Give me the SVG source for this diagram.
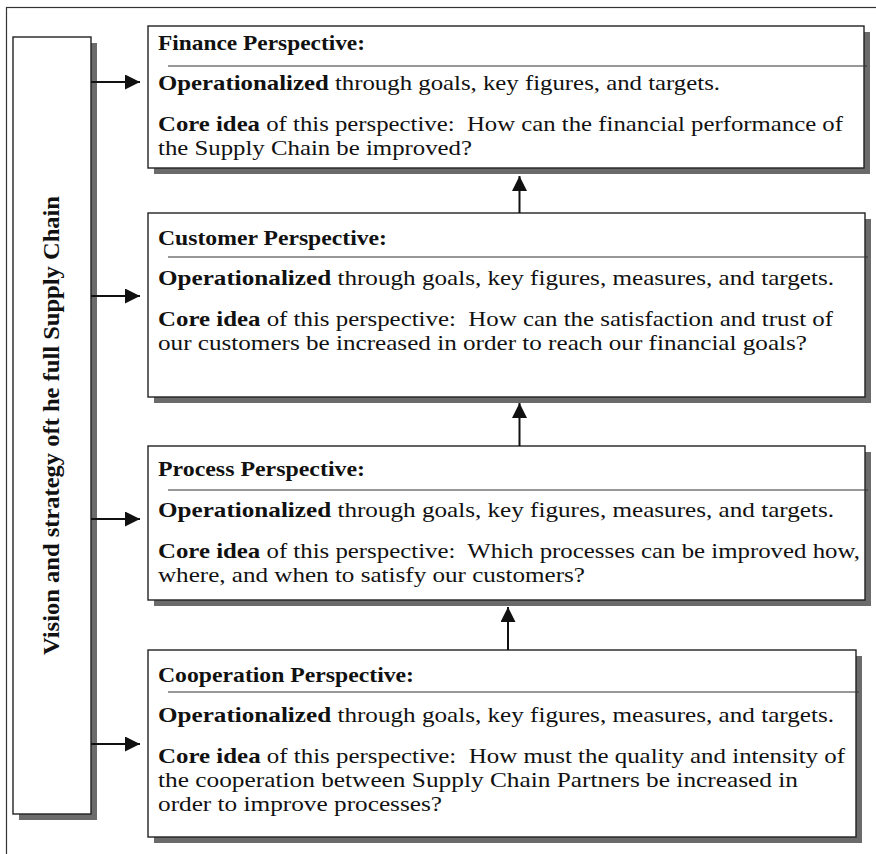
<svg xmlns="http://www.w3.org/2000/svg" width="876" height="854" viewBox="0 0 876 854">
  <style>
    .frame { fill: none; stroke: #333; stroke-width: 1.2; }
    .box { fill: #fff; stroke: #222; stroke-width: 1.4; }
    .shadow { fill: #6b6b6b; }
    .div { stroke: #333; stroke-width: 1.2; }
    .t { font-family: "Liberation Serif", "Times New Roman", serif; font-size: 22px; fill: #111; }
    .b { font-weight: bold; }
    .v { font-size: 23px; }
    .conn { stroke: #111; stroke-width: 2; fill: none; }
  </style>
  <defs>
    <marker id="ah" markerUnits="userSpaceOnUse" markerWidth="16" markerHeight="16" viewBox="0 0 16 16" refX="15" refY="7.5" orient="auto">
      <path d="M0,0 L15,7.5 L0,15 z" fill="#111"/>
    </marker>
  </defs>
  <rect width="876" height="854" fill="#fff"/>

  <rect class="frame" x="6.5" y="7.5" width="900" height="900"/>

  <g id="vision">
    <rect class="shadow" x="19" y="43" width="78" height="777"/>
    <rect class="box" x="13" y="37" width="78" height="777"/>
    <text class="t b v" transform="translate(59,655) rotate(-90)" x="0" y="0" textLength="459" lengthAdjust="spacingAndGlyphs">Vision and strategy oft he full Supply Chain</text>
  </g>

  <g id="finance">
    <rect class="shadow" x="154" y="32" width="716" height="142"/>
    <rect class="box" x="148" y="26" width="716" height="142"/>
    <line class="div" x1="168" y1="66" x2="867" y2="66"/>
    <text class="t b" x="158" y="50" textLength="207" lengthAdjust="spacingAndGlyphs">Finance Perspective:</text>
    <text class="t" x="158" y="90" textLength="562" lengthAdjust="spacingAndGlyphs"><tspan class="b">Operationalized</tspan> through goals, key figures, and targets.</text>
    <text class="t" x="158" y="131" textLength="685" lengthAdjust="spacingAndGlyphs"><tspan class="b">Core idea</tspan> of this perspective:&#160; How can the financial performance of</text>
    <text class="t" x="158" y="155" textLength="314" lengthAdjust="spacingAndGlyphs">the Supply Chain be improved?</text>
  </g>

  <g id="customer">
    <rect class="shadow" x="154" y="219" width="717" height="184"/>
    <rect class="box" x="148" y="213" width="717" height="184"/>
    <line class="div" x1="168" y1="257" x2="868" y2="257"/>
    <text class="t b" x="158" y="245" textLength="229" lengthAdjust="spacingAndGlyphs">Customer Perspective:</text>
    <text class="t" x="158" y="285" textLength="676" lengthAdjust="spacingAndGlyphs"><tspan class="b">Operationalized</tspan> through goals, key figures, measures, and targets.</text>
    <text class="t" x="158" y="326" textLength="675" lengthAdjust="spacingAndGlyphs"><tspan class="b">Core idea</tspan> of this perspective:&#160; How can the satisfaction and trust of</text>
    <text class="t" x="158" y="350" textLength="649" lengthAdjust="spacingAndGlyphs">our customers be increased in order to reach our financial goals?</text>
  </g>

  <g id="process">
    <rect class="shadow" x="154" y="452" width="717" height="154"/>
    <rect class="box" x="148" y="446" width="717" height="154"/>
    <line class="div" x1="168" y1="490" x2="868" y2="490"/>
    <text class="t b" x="158" y="476" textLength="207" lengthAdjust="spacingAndGlyphs">Process Perspective:</text>
    <text class="t" x="158" y="517" textLength="676" lengthAdjust="spacingAndGlyphs"><tspan class="b">Operationalized</tspan> through goals, key figures, measures, and targets.</text>
    <text class="t" x="158" y="558" textLength="702" lengthAdjust="spacingAndGlyphs"><tspan class="b">Core idea</tspan> of this perspective:&#160; Which processes can be improved how,</text>
    <text class="t" x="158" y="582" textLength="427" lengthAdjust="spacingAndGlyphs">where, and when to satisfy our customers?</text>
  </g>

  <g id="cooperation">
    <rect class="shadow" x="154" y="656" width="708" height="187"/>
    <rect class="box" x="148" y="650" width="708" height="187"/>
    <line class="div" x1="168" y1="692" x2="859" y2="692"/>
    <text class="t b" x="158" y="682" textLength="256" lengthAdjust="spacingAndGlyphs">Cooperation Perspective:</text>
    <text class="t" x="158" y="722" textLength="676" lengthAdjust="spacingAndGlyphs"><tspan class="b">Operationalized</tspan> through goals, key figures, measures, and targets.</text>
    <text class="t" x="158" y="763" textLength="687" lengthAdjust="spacingAndGlyphs"><tspan class="b">Core idea</tspan> of this perspective:&#160; How must the quality and intensity of</text>
    <text class="t" x="158" y="787" textLength="640" lengthAdjust="spacingAndGlyphs">the cooperation between Supply Chain Partners be increased in</text>
    <text class="t" x="158" y="811" textLength="284" lengthAdjust="spacingAndGlyphs">order to improve processes?</text>
  </g>

  <g id="connectors">
    <line class="conn" x1="91" y1="82" x2="140" y2="82" marker-end="url(#ah)"/>
    <line class="conn" x1="91" y1="296" x2="140" y2="296" marker-end="url(#ah)"/>
    <line class="conn" x1="91" y1="519" x2="140" y2="519" marker-end="url(#ah)"/>
    <line class="conn" x1="91" y1="744" x2="140" y2="744" marker-end="url(#ah)"/>
    <line class="conn" x1="519.5" y1="213" x2="519.5" y2="176" marker-end="url(#ah)"/>
    <line class="conn" x1="519.5" y1="446" x2="519.5" y2="403" marker-end="url(#ah)"/>
    <line class="conn" x1="508" y1="650" x2="508" y2="607" marker-end="url(#ah)"/>
  </g>
</svg>
